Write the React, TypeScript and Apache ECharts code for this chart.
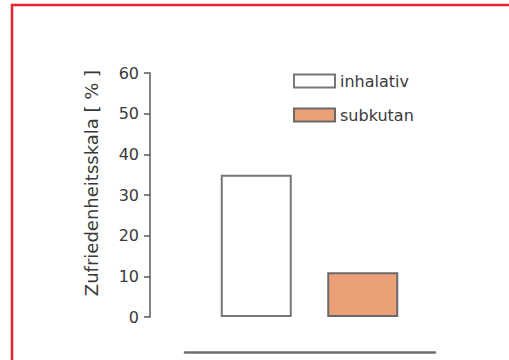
import React, { useEffect, useRef } from "react";
import * as echarts from "echarts";

const categories = ["inhalativ", "subkutan"];
const seriesNames = ["inhalativ", "subkutan"];
const inhalativValues = [35, "-"];
const subkutanValues = ["-", 11];
const yTicks = [0, 10, 20, 30, 40, 50, 60];
const yAxisName = "Zufriedenheitsskala [ % ]";

export default function App() {
  const ref = useRef<HTMLDivElement>(null);
  useEffect(() => {
    if (!ref.current) return;
    const chart = echarts.init(ref.current, null, { renderer: "svg" });
    const font = "DejaVu Sans, sans-serif";
    chart.setOption({
      animation: false,
      backgroundColor: "#ffffff",
      graphic: [
        {
          type: "rect",
          shape: { x: 12, y: 5, width: 620, height: 420 },
          style: { fill: "none", stroke: "#e8232b", lineWidth: 2.5 },
          z: 100,
        },
      ],
      legend: {
        orient: "vertical",
        left: 288,
        top: 68,
        itemWidth: 41,
        itemHeight: 13,
        itemGap: 18,
        icon: "rect",
        textStyle: { fontFamily: font, fontSize: 16, color: "#3a3a3a" },
        data: seriesNames,
      },
      grid: [
        { left: 203, width: 213, top: 73, bottom: 43 },
        { left: 185, right: 74, top: 300, bottom: 8 },
      ],
      xAxis: [
        {
          type: "category",
          gridIndex: 0,
          data: categories,
          axisLine: { show: false },
          axisTick: { show: false },
          axisLabel: { show: false },
        },
        {
          type: "category",
          gridIndex: 1,
          data: [""],
          axisLine: { show: true, lineStyle: { color: "#6e6e6e", width: 2.5 } },
          axisTick: { show: false },
          axisLabel: { show: false },
        },
      ],
      yAxis: [
        {
          type: "value",
          gridIndex: 0,
          min: yTicks[0],
          max: yTicks[yTicks.length - 1],
          interval: 10,
          offset: 53,
          name: yAxisName,
          nameLocation: "middle",
          nameGap: 50,
          nameTextStyle: { fontFamily: font, fontSize: 18, color: "#3a3a3a", padding: [0, 0, 0, 24] },
          axisLine: { show: true, lineStyle: { color: "#5a5a5a", width: 1.5 } },
          axisTick: { show: true, inside: false, length: 6, lineStyle: { color: "#5a5a5a", width: 1.5 } },
          axisLabel: { fontFamily: font, fontSize: 16, color: "#3a3a3a", margin: 11 },
          splitLine: { show: false },
        },
        {
          type: "value",
          gridIndex: 1,
          show: false,
        },
      ],
      series: [
        {
          name: seriesNames[0],
          type: "bar",
          stack: "s",
          xAxisIndex: 0,
          yAxisIndex: 0,
          barWidth: 71,
          data: inhalativValues,
          itemStyle: { color: "#ffffff", borderColor: "#777777", borderWidth: 2 },
        },
        {
          name: seriesNames[1],
          type: "bar",
          stack: "s",
          xAxisIndex: 0,
          yAxisIndex: 0,
          barWidth: 71,
          data: subkutanValues,
          itemStyle: { color: "#eca077", borderColor: "#6a6a6a", borderWidth: 2 },
        },
      ],
    });
    return () => chart.dispose();
  }, []);
  return (
    <div
      ref={ref}
      style={{ position: "fixed", left: 0, top: 0, width: 509, height: 360 }}
    />
  );
}
